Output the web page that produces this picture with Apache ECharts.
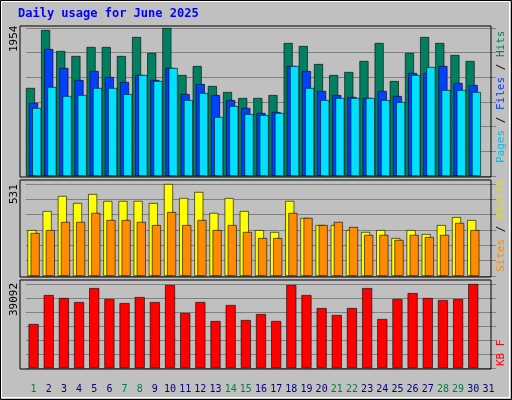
<!DOCTYPE html><html><head><meta charset="utf-8">
<script src="https://cdn.jsdelivr.net/npm/echarts@6/dist/echarts.min.js"></script>
<style>html,body{margin:0;padding:0;background:#C0C0C0}#c{width:512px;height:400px}</style></head><body><div id="c"></div><script>
const days=[];for(let i=1;i<=31;i++)days.push(String(i));
const weekend=[1,7,8,14,15,21,22,28,29];
const hits=[1162,1927,1650,1584,1703,1703,1584,1835,1624,1954,1333,1452,1188,1109,1030,1030,1069,1756,1716,1478,1333,1373,1518,1756,1254,1624,1835,1756,1597,1518,null];
const files=[964,1676,1426,1267,1386,1307,1241,1333,1267,1426,1082,1214,1069,1003,898,832,845,1452,1386,1122,1069,1043,1030,1122,1056,1360,1360,1452,1228,1201,null];
const pages=[898,1175,1056,1069,1162,1162,1082,1333,1254,1426,1003,1096,779,924,818,805,832,1452,1162,1003,1030,1030,1030,1003,977,1333,1439,1135,1135,1109,null];
const visits=[265,375,462,421,473,433,433,433,421,531,450,485,364,450,375,265,254,433,335,294,294,265,254,265,219,265,242,294,340,323,null];
const sites=[248,265,312,312,364,323,323,312,294,369,294,323,265,294,254,219,219,364,335,294,312,283,237,237,208,237,225,237,306,265,null];
const kbytes=[20460,33945,32550,30690,37200,32085,30225,33015,30690,38595,25575,30690,21855,29295,22320,25110,21855,38595,33945,27900,24645,27900,37200,22785,32085,34875,32550,31620,32085,39092,null];
const maxLabels=["1954","531","39092"];
const F='DejaVu Sans Mono';
const grids=[{left:26,right:16,top:28,height:148},{left:26,right:16,top:184,height:92},{left:26,right:16,top:284,height:84}];
const maxes=[1954,531,39092];
function xa(i){return {type:'category',gridIndex:i,data:days,boundaryGap:true,axisTick:{show:false},axisLine:{show:false},
 axisLabel:{show:i===2,interval:0,fontFamily:F,fontSize:10,margin:16,formatter:v=>weekend.includes(+v)?'{w|'+v+'}':'{d|'+v+'}',rich:{w:{color:'#008040',fontFamily:F,fontSize:10},d:{color:'#000080',fontFamily:F,fontSize:10}}}};}
function ya(i){return {type:'value',gridIndex:i,min:0,max:maxes[i],interval:maxes[i]/6,axisLabel:{show:false},axisLine:{show:false},axisTick:{show:false},splitLine:{show:true,lineStyle:{color:'#808080',width:1}}};}
function bar(name,data,color,g,gap){return {name,type:'bar',data,xAxisIndex:g,yAxisIndex:g,barWidth:9,barGap:gap,itemStyle:{color,borderColor:'#000',borderWidth:0.6},animation:false};}
const chart=echarts.init(document.getElementById('c'));
chart.setOption({backgroundColor:'#C0C0C0',animation:false,
 grid:grids,xAxis:[xa(0),xa(1),xa(2)],yAxis:[ya(0),ya(1),ya(2)],
 series:[bar('Hits',hits,'#008060',0,'-65%'),bar('Files',files,'#0040FF',0,'-65%'),bar('Pages',pages,'#00E0FF',0,'-65%'),
  bar('Visits',visits,'#FFFF00',1,'-65%'),bar('Sites',sites,'#FF8C00',1,'-65%'),
  {type:'bar',data:kbytes,xAxisIndex:2,yAxisIndex:2,barWidth:10,itemStyle:{color:'#FF0000',borderColor:'#000',borderWidth:0.6}}],
 graphic:[
  {type:'rect',shape:{x:0.5,y:0.5,width:511,height:399},style:{fill:null,stroke:'#000',lineWidth:1}},
  {type:'rect',shape:{x:1.5,y:1.5,width:508,height:396},style:{fill:null,stroke:'#fff',lineWidth:1}},
  {type:'rect',shape:{x:20,y:26,width:471,height:151},style:{fill:null,stroke:'#000',lineWidth:1},z:10},
  {type:'rect',shape:{x:20,y:180,width:471,height:97},style:{fill:null,stroke:'#000',lineWidth:1},z:10},
  {type:'rect',shape:{x:20,y:280,width:471,height:89},style:{fill:null,stroke:'#000',lineWidth:1},z:10},
  {type:'text',left:18,top:8,style:{text:'Daily usage for June 2025',font:'bold 12px '+F,fill:'#0000FF'}},
  {type:'text',x:9,y:52,rotation:Math.PI/2,style:{text:maxLabels[0],font:'11px '+F,fill:'#000'}},
  {type:'text',x:9,y:204,rotation:Math.PI/2,style:{text:maxLabels[1],font:'11px '+F,fill:'#000'}},
  {type:'text',x:9,y:316,rotation:Math.PI/2,style:{text:maxLabels[2],font:'11px '+F,fill:'#000'}},
  {type:'text',x:496,y:163,rotation:Math.PI/2,style:{text:'{p|Pages}{s| / }{f|Files}{s| / }{h|Hits}',font:'11px '+F,rich:{p:{fill:'#00C0E0',font:'11px '+F},f:{fill:'#0040FF',font:'11px '+F},h:{fill:'#008060',font:'11px '+F},s:{fill:'#000',font:'11px '+F}}}},
  {type:'text',x:496,y:272,rotation:Math.PI/2,style:{text:'{o|Sites}{s| / }{y|Visits}',font:'11px '+F,rich:{o:{fill:'#FF8C00',font:'11px '+F},y:{fill:'#E0E000',font:'11px '+F},s:{fill:'#000',font:'11px '+F}}}},
  {type:'text',x:496,y:366,rotation:Math.PI/2,style:{text:'KB F',font:'11px '+F,fill:'#FF0000'}}
 ]});
</script></body></html>
